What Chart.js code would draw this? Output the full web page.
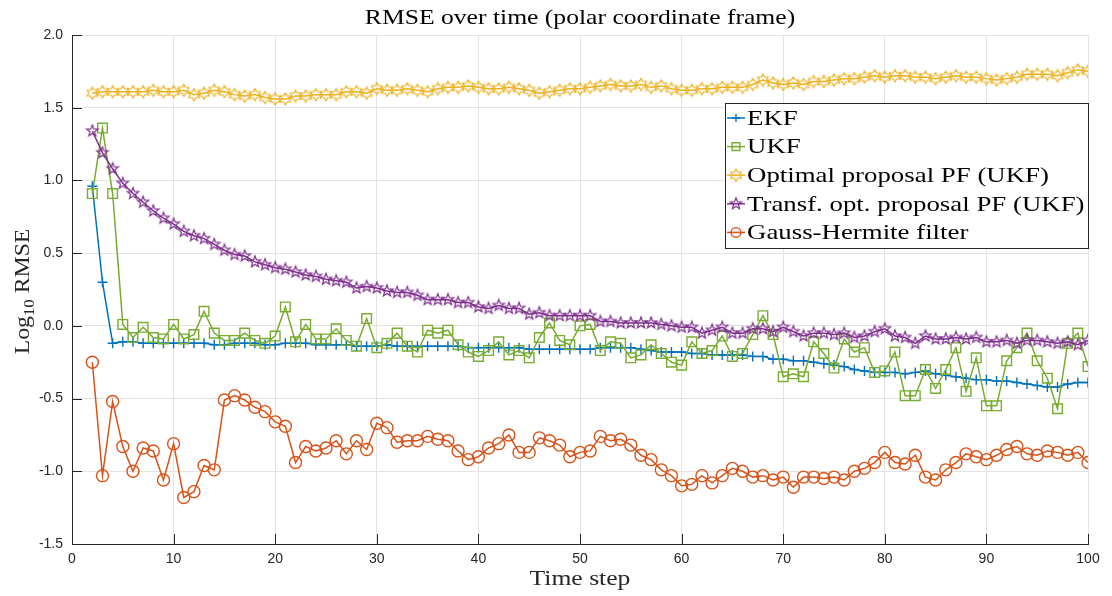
<!DOCTYPE html>
<html lang="en">
<head>
<meta charset="UTF-8">
<title>RMSE over time</title>
<script src="https://cdn.jsdelivr.net/npm/chart.js"></script>
<style>
  html, body { margin: 0; padding: 0; background: #fff; }
  #wrap { width: 1112px; height: 596px; }
</style>
</head>
<body>
<div id="wrap"><canvas id="rmseChart" width="1112" height="596"></canvas></div>
<script>
// time steps 2..100
const timeSteps = [
  2, 3, 4, 5, 6, 7, 8, 9, 10, 11,
  12, 13, 14, 15, 16, 17, 18, 19, 20, 21,
  22, 23, 24, 25, 26, 27, 28, 29, 30, 31,
  32, 33, 34, 35, 36, 37, 38, 39, 40, 41,
  42, 43, 44, 45, 46, 47, 48, 49, 50, 51,
  52, 53, 54, 55, 56, 57, 58, 59, 60, 61,
  62, 63, 64, 65, 66, 67, 68, 69, 70, 71,
  72, 73, 74, 75, 76, 77, 78, 79, 80, 81,
  82, 83, 84, 85, 86, 87, 88, 89, 90, 91,
  92, 93, 94, 95, 96, 97, 98, 99, 100
];

// log10 RMSE per filter
const ekf = [
  0.96, 0.30, -0.12, -0.11, -0.11, -0.12, -0.12, -0.12, -0.12, -0.12,
  -0.12, -0.12, -0.13, -0.13, -0.12, -0.12, -0.12, -0.13, -0.13, -0.12,
  -0.12, -0.12, -0.13, -0.13, -0.13, -0.13, -0.14, -0.14, -0.14, -0.13,
  -0.14, -0.14, -0.14, -0.14, -0.14, -0.14, -0.14, -0.15, -0.15, -0.15,
  -0.15, -0.15, -0.15, -0.16, -0.16, -0.16, -0.16, -0.16, -0.16, -0.16,
  -0.15, -0.15, -0.15, -0.15, -0.16, -0.17, -0.18, -0.18, -0.18, -0.19,
  -0.19, -0.20, -0.20, -0.20, -0.20, -0.21, -0.21, -0.23, -0.23, -0.24,
  -0.24, -0.25, -0.26, -0.27, -0.28, -0.30, -0.31, -0.32, -0.32, -0.32,
  -0.33, -0.32, -0.31, -0.33, -0.34, -0.35, -0.36, -0.37, -0.37, -0.38,
  -0.38, -0.39, -0.40, -0.41, -0.42, -0.42, -0.40, -0.39, -0.39
];
const ukf = [
  0.91, 1.36, 0.91, 0.01, -0.08, -0.01, -0.08, -0.09, 0.01, -0.09,
  -0.06, 0.10, -0.05, -0.10, -0.10, -0.05, -0.10, -0.12, -0.07, 0.13,
  -0.11, 0.01, -0.09, -0.09, -0.02, -0.10, -0.14, 0.05, -0.15, -0.12,
  -0.05, -0.14, -0.18, -0.03, -0.05, -0.03, -0.13, -0.18, -0.21, -0.17,
  -0.11, -0.20, -0.17, -0.22, -0.08, 0.02, -0.10, -0.13, 0.00, 0.01,
  -0.17, -0.11, -0.12, -0.22, -0.20, -0.13, -0.19, -0.25, -0.27, -0.11,
  -0.19, -0.17, -0.07, -0.21, -0.19, -0.06, 0.07, -0.06, -0.35, -0.33,
  -0.35, -0.11, -0.19, -0.29, -0.09, -0.18, -0.15, -0.32, -0.31, -0.18,
  -0.48, -0.48, -0.30, -0.43, -0.30, -0.15, -0.45, -0.22, -0.55, -0.55,
  -0.24, -0.15, -0.05, -0.24, -0.36, -0.57, -0.12, -0.05, -0.28
];
const optPF = [
  1.60, 1.61, 1.61, 1.61, 1.61, 1.61, 1.62, 1.61, 1.61, 1.62,
  1.59, 1.60, 1.62, 1.61, 1.59, 1.58, 1.59, 1.57, 1.56, 1.56,
  1.58, 1.58, 1.59, 1.59, 1.59, 1.61, 1.61, 1.60, 1.63, 1.62,
  1.62, 1.63, 1.62, 1.61, 1.63, 1.64, 1.64, 1.65, 1.64, 1.63,
  1.63, 1.64, 1.63, 1.62, 1.60, 1.61, 1.62, 1.63, 1.63, 1.64,
  1.65, 1.66, 1.65, 1.65, 1.66, 1.64, 1.65, 1.63, 1.62, 1.62,
  1.63, 1.63, 1.64, 1.64, 1.64, 1.66, 1.69, 1.67, 1.66, 1.67,
  1.66, 1.68, 1.68, 1.69, 1.70, 1.70, 1.71, 1.72, 1.71, 1.72,
  1.72, 1.71, 1.71, 1.70, 1.71, 1.72, 1.71, 1.71, 1.70, 1.69,
  1.70, 1.71, 1.73, 1.73, 1.73, 1.72, 1.74, 1.76, 1.75
];
const transfPF = [
  1.34, 1.19, 1.08, 0.98, 0.91, 0.85, 0.79, 0.74, 0.70, 0.65,
  0.62, 0.60, 0.56, 0.52, 0.49, 0.48, 0.44, 0.42, 0.40, 0.39,
  0.37, 0.35, 0.34, 0.32, 0.31, 0.30, 0.26, 0.27, 0.26, 0.24,
  0.23, 0.23, 0.21, 0.18, 0.18, 0.18, 0.16, 0.16, 0.13, 0.12,
  0.14, 0.12, 0.12, 0.08, 0.09, 0.07, 0.07, 0.07, 0.07, 0.07,
  0.03, 0.03, 0.02, 0.02, 0.02, 0.02, 0.01, 0.00, -0.01, -0.01,
  -0.05, -0.03, -0.01, -0.05, -0.05, -0.02, -0.02, -0.04, -0.01, -0.04,
  -0.07, -0.05, -0.05, -0.06, -0.05, -0.08, -0.07, -0.04, -0.02, -0.07,
  -0.08, -0.12, -0.07, -0.09, -0.09, -0.08, -0.09, -0.08, -0.11, -0.11,
  -0.10, -0.12, -0.10, -0.10, -0.11, -0.12, -0.11, -0.13, -0.10
];
const gaussHermite = [
  -0.25, -1.03, -0.52, -0.83, -1.00, -0.84, -0.86, -1.06, -0.81, -1.18,
  -1.14, -0.96, -0.99, -0.51, -0.48, -0.51, -0.56, -0.59, -0.66, -0.69,
  -0.94, -0.83, -0.86, -0.84, -0.79, -0.88, -0.79, -0.85, -0.67, -0.70,
  -0.80, -0.79, -0.79, -0.76, -0.78, -0.79, -0.86, -0.92, -0.90, -0.84,
  -0.81, -0.75, -0.87, -0.87, -0.77, -0.79, -0.82, -0.90, -0.87, -0.86,
  -0.76, -0.79, -0.78, -0.82, -0.89, -0.92, -0.99, -1.03, -1.10, -1.09,
  -1.03, -1.08, -1.03, -0.98, -1.00, -1.04, -1.03, -1.06, -1.04, -1.11,
  -1.04, -1.04, -1.05, -1.04, -1.06, -1.00, -0.98, -0.94, -0.87, -0.94,
  -0.95, -0.89, -1.04, -1.06, -0.99, -0.94, -0.88, -0.90, -0.92, -0.89,
  -0.85, -0.83, -0.88, -0.89, -0.86, -0.87, -0.89, -0.87, -0.94
];

const xTicks = [0, 10, 20, 30, 40, 50, 60, 70, 80, 90, 100];
const yTicks = [-1.5, -1.0, -0.5, 0.0, 0.5, 1.0, 1.5, 2.0];

const titleText = 'RMSE over time (polar coordinate frame)';
const xTitle = 'Time step';
const serif = '"Liberation Serif", "Times New Roman", serif';
const sans = '"Liberation Sans", Arial, sans-serif';
const serifStretch = 1.22; // widen Times glyphs toward the TeX look

// hollow star markers (hexagram / pentagram) as small canvases
function starMarker(points, outer, inner, color) {
  const size = Math.ceil(outer * 2 + 4);
  const c = document.createElement('canvas');
  c.width = size; c.height = size;
  const g = c.getContext('2d');
  g.translate(size / 2, size / 2);
  g.beginPath();
  for (let i = 0; i < points * 2; i++) {
    const r = i % 2 ? inner : outer;
    const a = -Math.PI / 2 + i * Math.PI / points;
    g.lineTo(r * Math.cos(a), r * Math.sin(a));
  }
  g.closePath();
  g.strokeStyle = color;
  g.lineWidth = 1.2;
  g.stroke();
  return c;
}

const colors = {
  ekf: '#0072BD', ukf: '#77AC30', opt: '#EDB120', transf: '#7E2F8E', gh: '#D95319'
};
const hexagram = starMarker(6, 6, 6 / Math.sqrt(3), colors.opt);
const pentagram = starMarker(5, 6, 2.5, colors.transf);

function series(values) {
  return values.map((v, i) => ({ x: timeSteps[i], y: v }));
}

const datasets = [
  { label: 'EKF', data: series(ekf), borderColor: colors.ekf, pointStyle: 'cross', pointRadius: 5, order: 5 },
  { label: 'UKF', data: series(ukf), borderColor: colors.ukf, pointStyle: 'rect', pointRadius: 6.8, order: 4 },
  { label: 'Optimal proposal PF (UKF)', data: series(optPF), borderColor: colors.opt, pointStyle: hexagram, pointRadius: 6, order: 3 },
  { label: 'Transf. opt. proposal PF (UKF)', data: series(transfPF), borderColor: colors.transf, pointStyle: pentagram, pointRadius: 6, order: 2 },
  { label: 'Gauss-Hermite filter', data: series(gaussHermite), borderColor: colors.gh, pointStyle: 'circle', pointRadius: 6, order: 1 }
].map(d => Object.assign({
  borderWidth: 1.5,
  pointBorderColor: d.borderColor,
  pointBackgroundColor: 'rgba(0,0,0,0)',
  pointBorderWidth: 1.4,
  tension: 0,
  fill: false
}, d));

const axisColor = '#262626';

// inward tick marks along the left and bottom axes
const innerTicks = {
  id: 'innerTicks',
  beforeDatasetsDraw(chart) {
    const { ctx, chartArea: a, scales: { x, y } } = chart;
    ctx.save();
    ctx.strokeStyle = axisColor;
    ctx.lineWidth = 1;
    ctx.beginPath();
    xTicks.forEach(v => {
      const px = Math.round(x.getPixelForValue(v)) + 0.5;
      ctx.moveTo(px, a.bottom);
      ctx.lineTo(px, a.bottom - 10);
    });
    yTicks.forEach(v => {
      const py = Math.round(y.getPixelForValue(v)) + 0.5;
      ctx.moveTo(a.left, py);
      ctx.lineTo(a.left + 10, py);
    });
    ctx.stroke();
    ctx.restore();
  }
};

function wideText(ctx, text, x, y, align) {
  const w = ctx.measureText(text).width * serifStretch;
  const left = align === 'center' ? x - w / 2 : x;
  ctx.save();
  ctx.translate(left, y);
  ctx.scale(serifStretch, 1);
  ctx.textAlign = 'left';
  ctx.fillText(text, 0, 0);
  ctx.restore();
}

// title, axis labels and the boxed legend
const frameText = {
  id: 'frameText',
  afterDraw(chart) {
    const { ctx, chartArea: a } = chart;
    const cx = (a.left + a.right) / 2;
    ctx.save();
    ctx.fillStyle = '#000';
    ctx.textBaseline = 'alphabetic';
    ctx.font = '21px ' + serif;
    wideText(ctx, titleText, cx, 24, 'center');

    ctx.fillStyle = axisColor;
    ctx.font = '21px ' + serif;
    wideText(ctx, xTitle, cx, 585, 'center');

    // y label: Log10 RMSE with subscript
    ctx.save();
    ctx.translate(29, (a.top + a.bottom) / 2 + 2);
    ctx.rotate(-Math.PI / 2);
    ctx.scale(1.13, 1);
    ctx.textAlign = 'left';
    const big = '21px ' + serif, small = '15px ' + serif;
    ctx.font = big;
    const w1 = ctx.measureText('Log').width;
    const w3 = ctx.measureText(' RMSE').width;
    ctx.font = small;
    const w2 = ctx.measureText('10').width;
    let px = -(w1 + w2 + w3) / 2;
    ctx.font = big; ctx.fillText('Log', px, 0); px += w1;
    ctx.font = small; ctx.fillText('10', px, 5); px += w2;
    ctx.font = big; ctx.fillText(' RMSE', px, 0);
    ctx.restore();

    // legend
    const box = { left: 725.5, top: 103.5, right: 1088.5, bottom: 248.5 };
    ctx.fillStyle = '#fff';
    ctx.fillRect(box.left, box.top, box.right - box.left, box.bottom - box.top);
    ctx.strokeStyle = axisColor;
    ctx.lineWidth = 1;
    ctx.strokeRect(box.left, box.top, box.right - box.left, box.bottom - box.top);
    ctx.textBaseline = 'middle';
    ctx.font = '22px ' + serif;
    chart.data.datasets.forEach((ds, i) => {
      const ly = 118 + i * 28.6;
      ctx.strokeStyle = ds.borderColor;
      ctx.lineWidth = 1.5;
      ctx.beginPath();
      ctx.moveTo(727, ly);
      ctx.lineTo(745, ly);
      ctx.stroke();
      ctx.fillStyle = 'rgba(0,0,0,0)';
      ctx.lineWidth = 1.4;
      Chart.helpers.drawPoint(ctx, {
        pointStyle: ds.pointStyle, radius: ds.pointRadius * 0.8, borderWidth: 1.4, rotation: 0
      }, 736, ly);
      ctx.fillStyle = '#000';
      wideText(ctx, ds.label, 747, ly + 1, 'left');
    });
    ctx.restore();
  }
};

new Chart(document.getElementById('rmseChart'), {
  type: 'line',
  data: { datasets },
  options: {
    responsive: false,
    animation: false,
    events: [],
    layout: { padding: { top: 35, right: 24, left: 0, bottom: 0 } },
    plugins: { legend: { display: false }, tooltip: { enabled: false } },
    scales: {
      x: {
        type: 'linear', min: 0, max: 100,
        afterFit: s => { s.height = 52; },
        afterBuildTicks: s => { s.ticks = xTicks.map(v => ({ value: v })); },
        ticks: { padding: 7, color: axisColor, font: { family: sans, size: 14 }, maxRotation: 0 },
        grid: { color: '#e3e3e3', drawTicks: false },
        border: { color: axisColor, width: 1 }
      },
      y: {
        type: 'linear', min: -1.5, max: 2,
        afterFit: s => { s.width = 72; },
        afterBuildTicks: s => { s.ticks = yTicks.map(v => ({ value: v })); },
        ticks: { padding: 9, color: axisColor, font: { family: sans, size: 14 }, callback: v => v.toFixed(1) },
        grid: { color: '#e3e3e3', drawTicks: false },
        border: { color: axisColor, width: 1 }
      }
    }
  },
  plugins: [innerTicks, frameText]
});
</script>
</body>
</html>
